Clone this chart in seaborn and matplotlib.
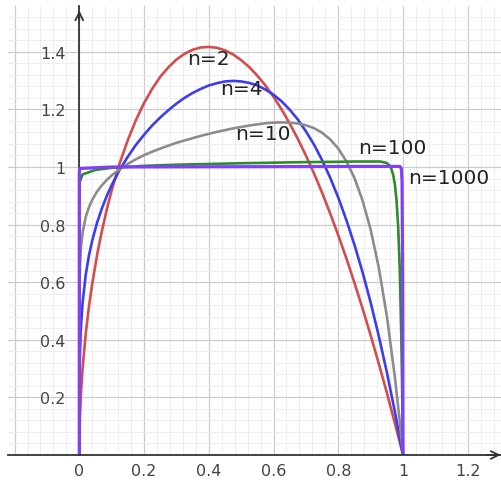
import numpy as np
import pandas as pd
import matplotlib
matplotlib.use("Agg")
import matplotlib.pyplot as plt
from matplotlib.ticker import MultipleLocator
import seaborn as sns

# valeurs
x_n2 = [0, 0.0005, 0.002, 0.005, 0.01, 0.02, 0.03, 0.04, 0.055, 0.07, 0.085, 0.1, 0.125, 0.15, 0.175,
        0.2, 0.225, 0.25, 0.275, 0.3, 0.325, 0.35, 0.375, 0.4, 0.425, 0.45, 0.475, 0.5, 0.525, 0.55,
        0.575, 0.6, 0.625, 0.65, 0.675, 0.7, 0.725, 0.75, 0.775, 0.8, 0.825, 0.85, 0.875, 0.9, 0.925,
        0.95, 0.975, 1.0]
y_n2 = [0, 0.067, 0.134, 0.212, 0.300, 0.423, 0.517, 0.595, 0.695, 0.779, 0.853, 0.919, 1.014, 1.094, 1.163,
        1.222, 1.271, 1.313, 1.346, 1.373, 1.393, 1.407, 1.415, 1.417, 1.414, 1.405, 1.391, 1.371, 1.347, 1.317,
        1.283, 1.244, 1.200, 1.151, 1.098, 1.040, 0.978, 0.911, 0.839, 0.763, 0.683, 0.598, 0.509, 0.416, 0.318,
        0.217, 0.110, 0]

x_n4 = x_n2
y_n4 = [0, 0.249, 0.353, 0.443, 0.527, 0.627, 0.694, 0.745, 0.807, 0.857, 0.900, 0.937, 0.991, 1.036, 1.077,
        1.112, 1.144, 1.172, 1.197, 1.220, 1.240, 1.257, 1.271, 1.283, 1.291, 1.297, 1.299, 1.297, 1.292, 1.283,
        1.269, 1.251, 1.228, 1.199, 1.165, 1.124, 1.078, 1.024, 0.963, 0.894, 0.816, 0.730, 0.635, 0.530, 0.414,
        0.288, 0.150, 0]

x_n10 = [0, 0.0005, 0.002, 0.005, 0.01, 0.02, 0.03, 0.04, 0.055, 0.07, 0.085, 0.1, 0.125, 0.15, 0.175,
         0.2, 0.225, 0.25, 0.275, 0.3, 0.325, 0.35, 0.375, 0.4, 0.425, 0.45, 0.475, 0.5, 0.525, 0.55,
         0.575, 0.6, 0.625, 0.65, 0.675, 0.7, 0.725, 0.75, 0.775, 0.8, 0.825, 0.85, 0.875, 0.9, 0.925,
         0.95, 0.975, 0.99, 1.0]
y_n10 = [0, 0.572, 0.657, 0.720, 0.771, 0.827, 0.861, 0.886, 0.915, 0.937, 0.955, 0.971, 0.993, 1.011, 1.027,
         1.041, 1.053, 1.064, 1.074, 1.084, 1.092, 1.100, 1.108, 1.115, 1.122, 1.128, 1.134, 1.139, 1.144, 1.148,
         1.152, 1.154, 1.155, 1.154, 1.151, 1.145, 1.135, 1.119, 1.096, 1.064, 1.020, 0.962, 0.884, 0.783, 0.652,
         0.484, 0.270, 0.116, 0]

x_n100 = [0, 1e-6, 0.0005, 0.01, 0.05, 0.1, 0.2, 0.3, 0.5, 0.7, 0.8, 0.85, 0.9, 0.93,
          0.95, 0.96, 0.965, 0.97, 0.975, 0.98, 0.985, 0.99, 0.995, 0.9975, 1.0]
y_n100 = [0, 0.889, 0.946, 0.974, 0.990, 0.997, 1.004, 1.008, 1.013, 1.017, 1.018, 1.019, 1.019, 1.019,
          1.014, 1.003, 0.991, 0.971, 0.939, 0.885, 0.795, 0.647, 0.402, 0.226, 0]

x_n1000 = [0, 1e-9, 0.001, 0.1, 0.5, 0.9, 0.99, 0.995, 0.997, 0.999, 0.9995, 1.0]
y_n1000 = [0, 0.982, 0.995, 1.000, 1.001, 1.002, 1.002, 0.995, 0.952, 0.634, 0.394, 0]

labels = ["n=2", "n=4", "n=10", "n=100", "n=1000"]
colors = ["#d44c4c", "#3c3cf0", "#8c8c8c", "#2e8b2e", "#8040f8"]
label_pos = [(0.333, 1.375), (0.435, 1.271), (0.481, 1.118), (0.861, 1.069), (1.015, 0.965)]

series = [(x_n2, y_n2), (x_n4, y_n4), (x_n10, y_n10), (x_n100, y_n100), (x_n1000, y_n1000)]

sns.set_style("white")
plt.rcParams['font.family'] = ['DejaVu Sans']

fig = plt.figure(figsize=(5.01, 4.81), dpi=100)
ax = fig.add_axes([8 / 501, 25 / 481, 493 / 501, 449 / 481])
ax.set_xlim(-0.2203, 1.3028)
ax.set_ylim(0, 1.559)

# grille
ax.xaxis.set_minor_locator(MultipleLocator(0.04))
ax.yaxis.set_minor_locator(MultipleLocator(0.04))
ax.grid(which='minor', color='#eeeeee', lw=0.7)
ax.grid(which='major', color='#cccccc', lw=0.9)
ax.set_axisbelow(True)

# courbes
for (xs, ys), lab, col in zip(series, labels, colors):
    df = pd.DataFrame({'x': xs, 'y': ys})
    lw = 2.3 if lab == "n=1000" else 1.9
    sns.lineplot(data=df, x='x', y='y', color=col, linewidth=lw, ax=ax, sort=False)

for lab, (tx, ty) in zip(labels, label_pos):
    ax.text(tx, ty, lab, fontsize=14.5, color='#222222', ha='left', va='center')

# axes
for s in ['top', 'right']:
    ax.spines[s].set_visible(False)
ax.spines['left'].set_position(('data', 0))
ax.spines['bottom'].set_position(('data', 0))
ax.spines['left'].set_color('#333333')
ax.spines['bottom'].set_color('#333333')
ax.spines['left'].set_linewidth(1.3)
ax.spines['bottom'].set_linewidth(1.3)
ax.spines['left'].set_zorder(1)

xt = [-0.2, 0, 0.2, 0.4, 0.6, 0.8, 1.0, 1.2]
yt = [0.2, 0.4, 0.6, 0.8, 1.0, 1.2, 1.4]
ax.set_xticks(xt)
ax.set_xticklabels(["", "0", "0.2", "0.4", "0.6", "0.8", "1", "1.2"])
ax.set_yticks(yt)
ax.set_yticklabels(["0.2", "0.4", "0.6", "0.8", "1", "1.2", "1.4"])
ax.xaxis.set_minor_locator(MultipleLocator(0.04))
ax.yaxis.set_minor_locator(MultipleLocator(0.04))
ax.tick_params(which='both', length=0)
ax.tick_params(axis='x', pad=6, labelsize=11.5, labelcolor='#444444')
ax.tick_params(axis='y', pad=10, labelsize=11.5, labelcolor='#444444')
ax.set_xlabel("")
ax.set_ylabel("")

# fleches
ax.annotate('', xy=(0, 1.553), xytext=(0, 1.50),
            arrowprops=dict(arrowstyle='->', color='#333333', lw=1.3, mutation_scale=14))
ax.annotate('', xy=(1.31, 0), xytext=(1.25, 0), annotation_clip=False,
            arrowprops=dict(arrowstyle='->', color='#333333', lw=1.3, mutation_scale=14))

fig.savefig("out.png", dpi=100)
